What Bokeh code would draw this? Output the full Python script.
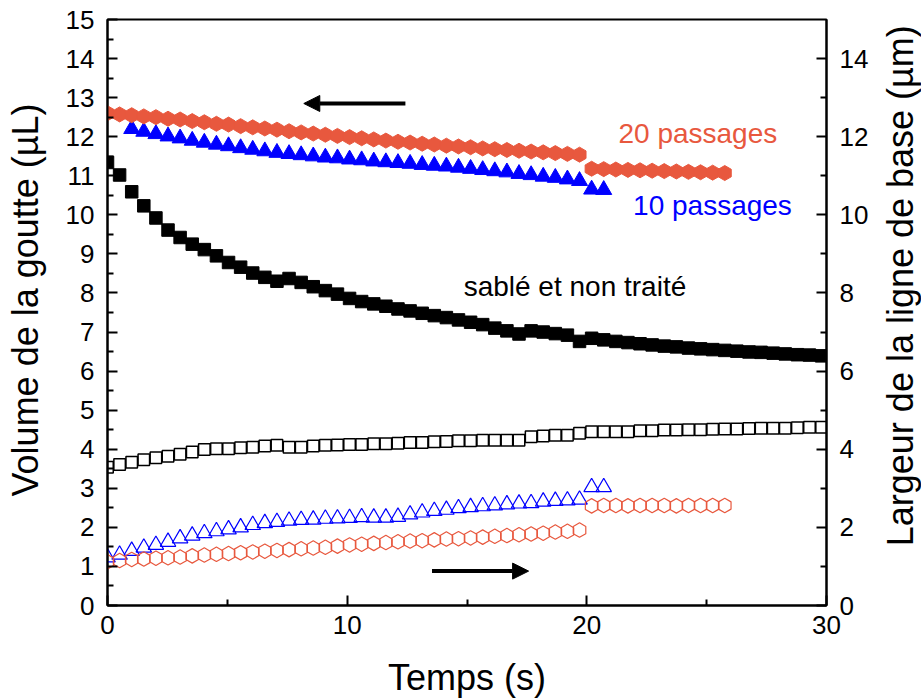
import math

from bokeh.plotting import figure
from bokeh.layouts import row
from bokeh.models import Range1d, LinearAxis, FixedTicker, Arrow, NormalHead
from bokeh.core.properties import value
from bokeh.embed import file_html
from bokeh.resources import INLINE

# Time between two recorded frames of the drop video (s)
FRAME_DT = 0.505

# Frame numbers of each recorded series
frames_non_traite = list(range(0, 60))
frames_20 = list(range(0, 52))
frames_10_volume = list(range(2, 42))
frames_10_largeur = list(range(0, 42))

# Drop volume (µL) - left axis
volume_non_traite = [
    11.34, 11.02, 10.59, 10.23, 9.92, 9.61, 9.42, 9.25, 9.11, 8.95,
    8.78, 8.66, 8.51, 8.40, 8.30, 8.37, 8.27, 8.16, 8.06, 7.97,
    7.86, 7.78, 7.72, 7.66, 7.59, 7.54, 7.48, 7.42, 7.37, 7.31,
    7.25, 7.19, 7.10, 7.03, 6.95, 7.03, 7.00, 6.96, 6.92, 6.76,
    6.84, 6.80, 6.76, 6.73, 6.70, 6.67, 6.64, 6.62, 6.59, 6.57,
    6.55, 6.53, 6.51, 6.49, 6.48, 6.46, 6.44, 6.42, 6.41, 6.39,
]
volume_20 = [
    12.60, 12.57, 12.55, 12.52, 12.50, 12.46, 12.44, 12.40, 12.37, 12.33,
    12.31, 12.27, 12.24, 12.21, 12.18, 12.14, 12.11, 12.08, 12.05, 12.02,
    11.99, 11.96, 11.93, 11.90, 11.87, 11.85, 11.82, 11.80, 11.77, 11.75,
    11.73, 11.70, 11.68, 11.66, 11.64, 11.62, 11.60, 11.58, 11.56, 11.54,
    11.18, 11.17, 11.16, 11.15, 11.14, 11.13, 11.12, 11.11, 11.10, 11.09,
    11.08, 11.07,
]
volume_10 = [
    12.20, 12.13, 12.07, 12.01, 11.96, 11.90, 11.85, 11.80, 11.76, 11.71,
    11.67, 11.63, 11.59, 11.56, 11.53, 11.50, 11.47, 11.45, 11.42, 11.40,
    11.37, 11.35, 11.33, 11.31, 11.28, 11.26, 11.24, 11.21, 11.18, 11.15,
    11.12, 11.09, 11.05, 11.02, 10.98, 10.95, 10.91, 10.87, 10.65, 10.64,
]

# Base line width (µm) - right axis
largeur_non_traite = [
    3.54, 3.61, 3.67, 3.73, 3.78, 3.82, 3.87, 3.93, 3.99, 4.01,
    4.01, 4.04, 4.05, 4.08, 4.10, 4.05, 4.05, 4.08, 4.10, 4.11,
    4.12, 4.12, 4.14, 4.14, 4.15, 4.17, 4.17, 4.19, 4.20, 4.22,
    4.22, 4.23, 4.23, 4.23, 4.23, 4.32, 4.34, 4.36, 4.36, 4.41,
    4.45, 4.45, 4.45, 4.45, 4.47, 4.47, 4.49, 4.49, 4.50, 4.50,
    4.51, 4.52, 4.52, 4.53, 4.54, 4.54, 4.54, 4.55, 4.56, 4.56,
]
largeur_20 = [
    1.12, 1.15, 1.18, 1.19, 1.21, 1.22, 1.24, 1.27, 1.29, 1.31,
    1.33, 1.35, 1.37, 1.39, 1.41, 1.43, 1.45, 1.47, 1.49, 1.52,
    1.55, 1.57, 1.59, 1.61, 1.63, 1.65, 1.66, 1.68, 1.70, 1.71,
    1.73, 1.75, 1.77, 1.79, 1.81, 1.83, 1.85, 1.88, 1.90, 1.93,
    2.55, 2.56, 2.56, 2.55, 2.56, 2.56, 2.56, 2.55, 2.56, 2.56,
    2.56, 2.56,
]
largeur_10 = [
    1.23, 1.30, 1.40, 1.48, 1.55, 1.63, 1.72, 1.79, 1.85, 1.90,
    1.95, 2.00, 2.06, 2.11, 2.14, 2.17, 2.19, 2.20, 2.22, 2.23,
    2.24, 2.26, 2.25, 2.25, 2.27, 2.33, 2.38, 2.42, 2.45, 2.49,
    2.52, 2.54, 2.56, 2.59, 2.61, 2.62, 2.66, 2.68, 2.69, 2.71,
    3.03, 3.03,
]

# Axis ticks
x_ticks = [0, 10, 20, 30]
x_minor = [5, 15, 25]
volume_ticks = list(range(0, 16))
volume_minor = [i + 0.5 for i in range(0, 15)]
largeur_ticks = list(range(0, 15, 2))
largeur_minor = list(range(1, 15, 2))


def times(frames):
    return [round(f * FRAME_DT, 3) for f in frames]


ORANGE = "#E8583E"
BLUE = "#0000FF"
FONT = "Liberation Sans"
HEIGHT = 700

p = figure(
    width=830, height=HEIGHT,
    x_range=Range1d(0, 30), y_range=Range1d(0, 15),
    output_backend="svg", toolbar_location=None,
    min_border_left=57, min_border_right=54,
    min_border_top=19, min_border_bottom=93,
    x_axis_label="Temps (s)",
)
p.extra_y_ranges = {"largeur": Range1d(0, 15)}
right_axis = LinearAxis(y_range_name="largeur")
p.add_layout(right_axis, "right")

p.xgrid.visible = False
p.ygrid.visible = False
p.outline_line_color = "black"
p.outline_line_width = 2
p.outline_line_alpha = 1.0
p.background_fill_color = "white"
p.border_fill_color = "white"

bottom_axis = p.xaxis[0]
left_axis = p.yaxis[0]
bottom_axis.ticker = FixedTicker(ticks=x_ticks, minor_ticks=x_minor)
left_axis.ticker = FixedTicker(ticks=volume_ticks, minor_ticks=volume_minor)
right_axis.ticker = FixedTicker(ticks=largeur_ticks, minor_ticks=largeur_minor)

for ax in (bottom_axis, left_axis, right_axis):
    ax.axis_line_width = 2
    ax.axis_line_color = "black"
    ax.major_tick_line_width = 2
    ax.minor_tick_line_width = 2
    ax.major_tick_line_color = "black"
    ax.minor_tick_line_color = "black"
    ax.major_tick_in = 10
    ax.major_tick_out = 0
    ax.minor_tick_in = 6
    ax.minor_tick_out = 0
    ax.major_label_text_font = FONT
    ax.major_label_text_font_size = "26px"
    ax.major_label_text_color = "black"
    ax.axis_label_text_font = FONT
    ax.axis_label_text_font_style = "normal"
    ax.axis_label_text_color = "black"

bottom_axis.axis_label_text_font_size = "36px"
bottom_axis.major_label_standoff = 10
bottom_axis.axis_label_standoff = 20
left_axis.major_label_standoff = 13
right_axis.major_label_standoff = 13

# Base line width series (right axis), open markers
p.scatter(times(frames_non_traite), largeur_non_traite, y_range_name="largeur",
          marker="square", size=11.5, fill_color=None, line_color="black",
          line_width=1.5)
p.scatter(times(frames_10_largeur), largeur_10, y_range_name="largeur",
          marker="triangle", size=15.5, fill_color=None, line_color=BLUE,
          line_width=1.2)
p.scatter(times(frames_20), largeur_20, y_range_name="largeur",
          marker="hex", angle=math.pi / 6, size=14.5, fill_color=None,
          line_color=ORANGE, line_width=1.2)

# Drop volume series (left axis), filled markers
p.scatter(times(frames_non_traite), volume_non_traite, marker="square", size=12.5,
          fill_color="black", line_color="black")
p.scatter(times(frames_10_volume), volume_10, marker="triangle", size=16,
          fill_color=BLUE, line_color=BLUE)
p.scatter(times(frames_20), volume_20, marker="hex", angle=math.pi / 6, size=15,
          fill_color=ORANGE, line_color=ORANGE)

# Arrows telling which axis each group of curves belongs to
p.add_layout(Arrow(end=NormalHead(size=16, fill_color="black", line_color="black"),
                   x_start=12.43, y_start=12.85, x_end=8.19, y_end=12.85,
                   line_width=4, line_color="black"))
p.add_layout(Arrow(end=NormalHead(size=16, fill_color="black", line_color="black"),
                   x_start=13.54, y_start=0.88, x_end=17.57, y_end=0.88,
                   line_width=4, line_color="black"))

# Series labels
p.text(x=[21.32], y=[12.09], text=["20 passages"], text_color=ORANGE,
       text_font=value(FONT), text_font_size="28px",
       text_align="left", text_baseline="alphabetic")
p.text(x=[21.93], y=[10.25], text=["10 passages"], text_color=BLUE,
       text_font=value(FONT), text_font_size="28px",
       text_align="left", text_baseline="alphabetic")
p.text(x=[14.86], y=[8.17], text=["sablé et non traité"], text_color="black",
       text_font=value(FONT), text_font_size="28px",
       text_align="left", text_baseline="alphabetic")


def title_strip(width, text, center_x, center_y):
    """Narrow strip carrying a vertical axis title, read bottom-to-top."""
    s = figure(
        width=width, height=HEIGHT, x_range=Range1d(0, width),
        y_range=Range1d(0, HEIGHT), output_backend="svg", toolbar_location=None,
        x_axis_location=None, y_axis_location=None, min_border=0,
    )
    s.xgrid.visible = False
    s.ygrid.visible = False
    s.outline_line_color = None
    s.background_fill_color = "white"
    s.border_fill_color = "white"
    s.text(x=[center_x], y=[HEIGHT - center_y], text=[text],
           angle=math.pi / 2, text_align="center", text_baseline="middle",
           text_font=value(FONT), text_font_size="36px", text_color="black")
    return s


left_title = title_strip(50, "Volume de la goutte (µL)", 25, 335)
right_title = title_strip(41, "Largeur de la ligne de base (µm)", 20, 318)

layout = row(left_title, p, right_title, spacing=0)
open("out.html", "w").write(file_html(layout, INLINE))
